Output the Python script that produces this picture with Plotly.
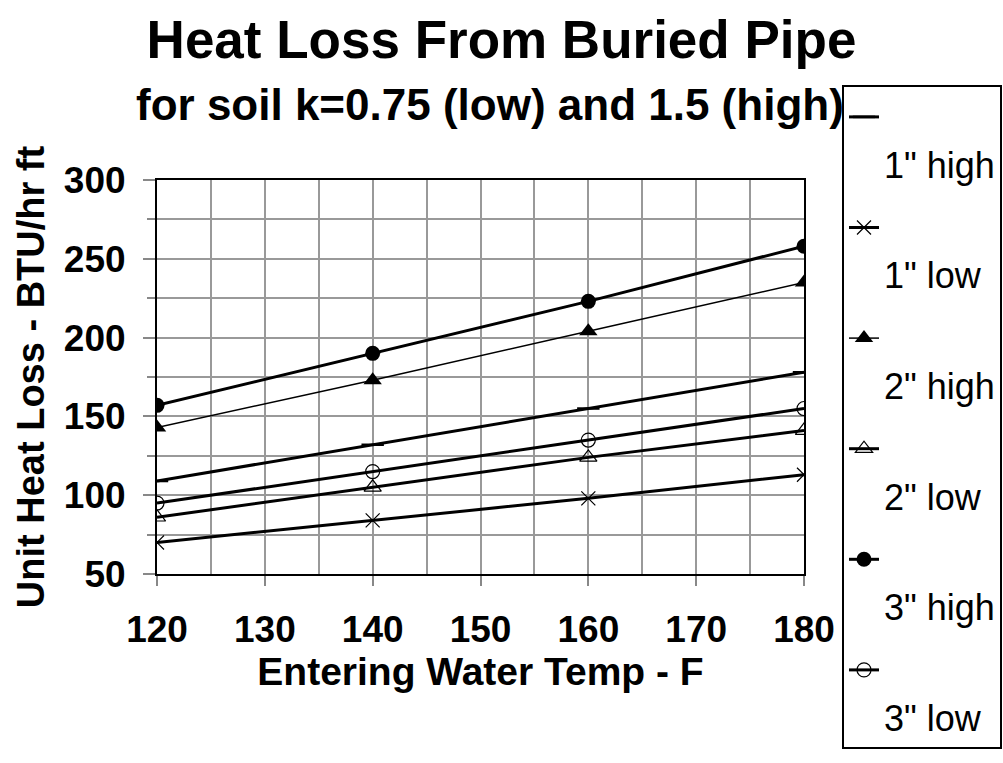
import plotly.graph_objects as go

temps = [120, 140, 160, 180]
one_high = [109, 132, 155, 178]
one_low = [70, 84, 98, 113]
two_high = [143, 173, 204, 235]
two_low = [86, 105, 124, 141]
three_high = [157, 190, 223, 258]
three_low = [95, 115, 135, 155]

series_names = ['1" high', '1" low', '2" high', '2" low', '3" high', '3" low']
x_ticks = [120, 130, 140, 150, 160, 170, 180]
y_ticks = [50, 100, 150, 200, 250, 300]

FONT = "Liberation Sans, Arial, sans-serif"

styles = [
    dict(lw=3, sym="line-ew", size=16, mlw=2.5),
    dict(lw=3, sym="x-thin", size=14, mlw=1.2),
    dict(lw=1.5, sym="triangle-up", size=16, mlw=0),
    dict(lw=3, sym="triangle-up-open", size=15, mlw=1.2),
    dict(lw=3, sym="circle", size=15, mlw=0),
    dict(lw=3, sym="circle-open", size=14, mlw=1.2),
]
values = [one_high, one_low, two_high, two_low, three_high, three_low]

fig = go.Figure()
for i, (name, vals, st) in enumerate(zip(series_names, values, styles)):
    fig.add_trace(go.Scatter(
        x=temps, y=vals, name="<br>" + name, mode="lines+markers",
        legendgroup=f"g{i}",
        line=dict(color="black", width=st["lw"]),
        marker=dict(symbol=st["sym"], size=st["size"], color="black",
                    line=dict(color="black", width=st["mlw"])),
    ))

fig.update_layout(
    width=1003, height=763,
    margin=dict(l=157, r=199, t=180, b=189, autoexpand=False),
    paper_bgcolor="white", plot_bgcolor="white",
    font=dict(family=FONT, color="black"),
    title=dict(text="<b>Heat Loss From Buried Pipe</b>", x=0.5, xref="container",
               xanchor="center", y=1 - 39 / 763, yanchor="middle",
               font=dict(size=53, family=FONT, color="black")),
    showlegend=True,
    legend=dict(x=(842 - 157) / 647, y=(574 - 85) / 394, xanchor="left", yanchor="top",
                bordercolor="black", borderwidth=2, bgcolor="white",
                font=dict(size=36, family=FONT, color="black"),
                valign="top", tracegroupgap=14, maxheight=740, entrywidth=200),
    annotations=[dict(text="<b>for soil k=0.75 (low) and 1.5 (high)</b>",
                      x=(490 - 157) / 647, y=(574 - 104) / 394, xref="paper", yref="paper",
                      xanchor="center", yanchor="middle", showarrow=False,
                      font=dict(size=44, family=FONT, color="black"))],
)

fig.update_xaxes(
    range=[120, 180], tickvals=x_ticks, ticks="outside", ticklen=10, tickwidth=2,
    tickcolor="#888888", tickfont=dict(size=37, family=FONT, color="black", weight="bold"),
    ticklabelstandoff=12,
    showline=True, linecolor="black", linewidth=2, mirror=True,
    showgrid=True, gridcolor="#999999", gridwidth=1.5,
    minor=dict(dtick=5, tick0=120, showgrid=True, gridcolor="#999999", gridwidth=1.5,
               ticks=""),
    title=dict(text="<b>Entering Water Temp - F</b>", standoff=0,
               font=dict(size=39, family=FONT, color="black")),
    zeroline=False,
)
fig.update_yaxes(
    range=[50, 300], tickvals=y_ticks, ticks="outside", ticklen=12, tickwidth=2,
    tickcolor="#888888", tickfont=dict(size=37, family=FONT, color="black", weight="bold"),
    ticklabelstandoff=10,
    showline=True, linecolor="black", linewidth=2, mirror=True,
    showgrid=True, gridcolor="#999999", gridwidth=1.5,
    minor=dict(dtick=25, tick0=50, showgrid=True, gridcolor="#999999", gridwidth=1.5,
               ticks="outside", ticklen=8, tickcolor="#888888", tickwidth=2),
    title=dict(text="<b>Unit Heat Loss - BTU/hr ft</b>", standoff=8,
               font=dict(size=38, family=FONT, color="black")),
    zeroline=False,
)

fig.write_html("out.html", config={"displayModeBar": False},
               post_script="document.body.style.margin='0';document.body.style.overflow='hidden';")
